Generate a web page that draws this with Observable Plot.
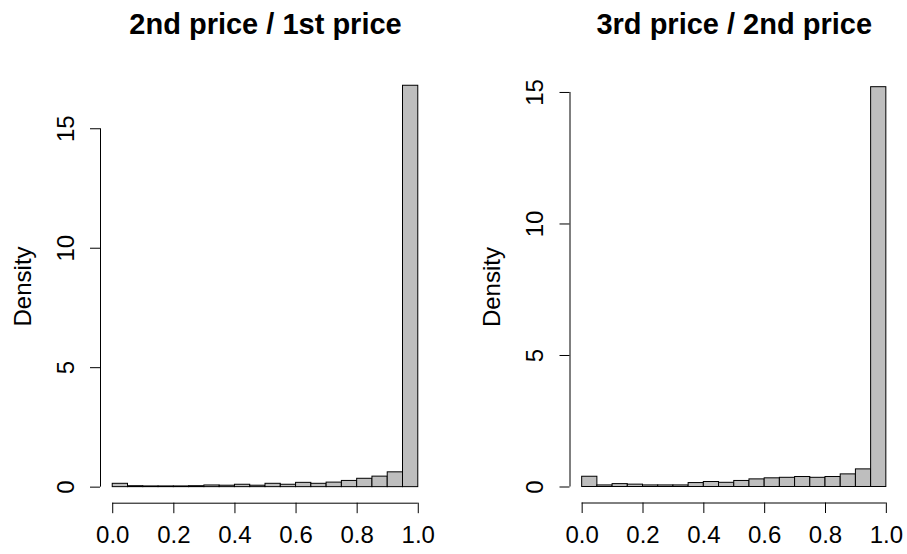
<!DOCTYPE html>
<html>
<head>
<meta charset="utf-8">
<script src="https://cdn.jsdelivr.net/npm/d3@7"></script>
<script src="https://cdn.jsdelivr.net/npm/@observablehq/plot@0.6"></script>
<style>
  html, body { margin: 0; padding: 0; background: #fff; }
  #wrap { display: flex; width: 907px; height: 554px; }
</style>
</head>
<body>
<div id="wrap"></div>
<script>
// Histogram bin edges (shared by both panels)
const breaks = [0, 0.05, 0.1, 0.15, 0.2, 0.25, 0.3, 0.35, 0.4, 0.45, 0.5,
                0.55, 0.6, 0.65, 0.7, 0.75, 0.8, 0.85, 0.9, 0.95, 1.0];
// Densities per bin
const density21 = [0.14, 0.04, 0.03, 0.03, 0.03, 0.04, 0.07, 0.06, 0.10, 0.06,
                   0.14, 0.10, 0.18, 0.14, 0.19, 0.26, 0.35, 0.44, 0.62, 16.8];
const density32 = [0.39, 0.06, 0.11, 0.09, 0.06, 0.06, 0.06, 0.15, 0.19, 0.16,
                   0.23, 0.29, 0.33, 0.35, 0.38, 0.35, 0.38, 0.48, 0.67, 15.2];
const titles = ["2nd price / 1st price", "3rd price / 2nd price"];
const xTicks = [0, 0.2, 0.4, 0.6, 0.8, 1.0];
const xTickLabels = ["0.0", "0.2", "0.4", "0.6", "0.8", "1.0"];
const yTicks21 = [0, 5, 10, 15];
const yTicks32 = [0, 5, 10, 15];

const font = "'Liberation Sans', Arial, Helvetica, sans-serif";

function panel(dens, title, yTicks, m) {
  const data = dens.map((d, i) => ({x1: breaks[i], x2: breaks[i + 1], y: d}));
  const x0 = breaks[0], x1 = breaks[breaks.length - 1];
  const xr = x1 - x0;
  const xMin = x0 - 0.04 * xr, xMax = x1 + 0.04 * xr;
  const yMax = d3.max(dens);
  const yMin = -0.04 * yMax, yTop = yMax * 1.04;
  return Plot.plot({
    width: m.width,
    height: 554,
    marginLeft: m.left,
    marginRight: m.right,
    marginTop: m.top,
    marginBottom: 554 - m.bottom,
    style: {fontFamily: font, fontSize: "24px", color: "#000", background: "#fff", overflow: "visible"},
    x: {domain: [xMin, xMax], axis: null},
    y: {domain: [yMin, yTop], axis: null},
    marks: [
      Plot.rectY(data, {x1: "x1", x2: "x2", y1: 0, y2: "y", fill: "#bebebe", stroke: "#000", strokeWidth: 1}),
      // x axis line from first to last tick
      Plot.ruleY([yMin], {x1: xTicks[0], x2: xTicks[xTicks.length - 1], stroke: "#000"}),
      Plot.axisX({ticks: xTicks, tickSize: 10.5, tickPadding: 12, tickFormat: (d, i) => xTickLabels[i], label: null, fontSize: 24}),
      // y axis line
      Plot.ruleX([xMin], {y1: yTicks[0], y2: yTicks[yTicks.length - 1], stroke: "#000"}),
      Plot.axisY({ticks: yTicks, tickSize: 10, tickFormat: () => "", label: null}),
      Plot.text(yTicks, {y: d => d, text: d => String(d), frameAnchor: "left", rotate: -90, dx: -27,
                         textAnchor: "middle", lineAnchor: "bottom", fontSize: 24}),
      Plot.text(["Density"], {text: d => d, frameAnchor: "left", rotate: -90, dx: -70,
                              textAnchor: "middle", lineAnchor: "bottom", fontSize: 24}),
      Plot.text([title], {text: d => d, frameAnchor: "top", dy: 34 - m.top, lineAnchor: "bottom",
                          textAnchor: "middle", fontWeight: "bold", fontSize: 29})
    ]
  });
}

const wrap = document.getElementById("wrap");
wrap.append(panel(density21, titles[0], yTicks21, {width: 453, left: 100, right: 23, top: 69.2, bottom: 502.7}));
wrap.append(panel(density32, titles[1], yTicks32, {width: 454, left: 116.5, right: 9, top: 70.7, bottom: 502.5}));
</script>
</body>
</html>
